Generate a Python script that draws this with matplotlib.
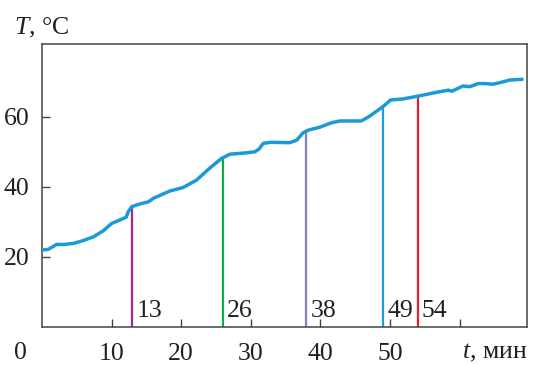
import matplotlib
matplotlib.use('Agg')
import matplotlib.pyplot as plt
import numpy as np

plt.rcParams['font.family'] = ['Liberation Serif', 'DejaVu Serif']
plt.rcParams['mathtext.fontset'] = 'custom'
plt.rcParams['mathtext.rm'] = 'Liberation Serif'
plt.rcParams['mathtext.it'] = 'Liberation Serif:italic'

# кривая нагрева: время (мин) и температура (°C)
t_min = [0.0, 0.9, 2.1, 3.1, 4.5, 5.9, 7.4, 8.8, 10.0, 11.2, 12.1, 12.4, 12.9,
         14.1, 15.3, 16.0, 18.4, 20.3, 22.2, 24.1, 25.8, 27.0, 29.4, 30.6, 31.2,
         31.8, 32.8, 35.6, 36.6, 37.5, 38.3, 39.9, 41.6, 42.8, 45.9, 47.1, 48.3,
         49.0, 50.1, 51.9, 54.3, 56.7, 58.4, 58.9, 60.5, 61.5, 62.7, 63.6, 64.8,
         66.3, 67.2, 69.0]
temp = [21.9, 22.1, 23.5, 23.5, 23.8, 24.6, 25.7, 27.4, 29.5, 30.5, 31.3, 32.9, 34.3,
        35.1, 35.7, 36.7, 38.8, 39.8, 41.9, 45.3, 48.1, 49.3, 49.7, 50.0, 50.8,
        52.4, 52.7, 52.6, 53.3, 55.4, 56.2, 57.0, 58.3, 58.8, 58.8, 60.2, 61.9,
        62.9, 64.8, 65.1, 66.0, 67.0, 67.6, 67.3, 68.8, 68.6, 69.5, 69.5, 69.3,
        70.0, 70.5, 70.7]

# отметки времени и цвета линий
marks = [13, 26, 38, 49, 54]
mark_colors = ['#a8258f', '#12a84c', '#8a80bd', '#1e9bd8', '#ee1c25']

x_ticks = [10, 20, 30, 40, 50, 60]
x_tick_labels = ['10', '20', '30', '40', '50', '']
y_ticks = [20, 40, 60]

fig = plt.figure(figsize=(5.33, 3.65), dpi=100)
ax = fig.add_axes([42 / 533, 1 - 326.7 / 365, 485 / 533, 282.7 / 365])

ax.plot(t_min, temp, color='#1b9ad7', lw=2.5, solid_capstyle='round',
        solid_joinstyle='round', zorder=3)

for m, c in zip(marks, mark_colors):
    top = np.interp(m, t_min, temp)
    ax.plot([m, m], [0, top], color=c, lw=1.6, zorder=2)
    ax.annotate(str(m), xy=(m, 2.9), xytext=(3, 0), textcoords='offset points',
                fontsize=18.5, ha='left', va='baseline', color='#231f20')

ax.set_xlim(0, 69.7)
ax.set_ylim(0, 80.8)
ax.set_xticks(x_ticks)
ax.set_xticklabels(x_tick_labels)
ax.set_yticks(y_ticks)
ax.tick_params(direction='in', length=6, width=1, colors='#444444',
               labelcolor='#231f20', labelsize=18.5)
ax.tick_params(axis='x', pad=12)
ax.tick_params(axis='y', pad=9)
for s in ax.spines.values():
    s.set_color('#444444')
    s.set_linewidth(1.1)

fig.text(20 / 533, 1 - 353 / 365, '0', fontsize=18.5, ha='center', va='center', color='#231f20')
fig.text(527 / 533, 1 - 353 / 365, r'$\mathit{t}$, мин', fontsize=18.5,
         ha='right', va='center', color='#231f20')
fig.text(14 / 533, 1 - 28 / 365, r'$\mathit{T}$, °C', fontsize=18.5,
         ha='left', va='center', color='#231f20')

fig.savefig('out.png', dpi=100)
